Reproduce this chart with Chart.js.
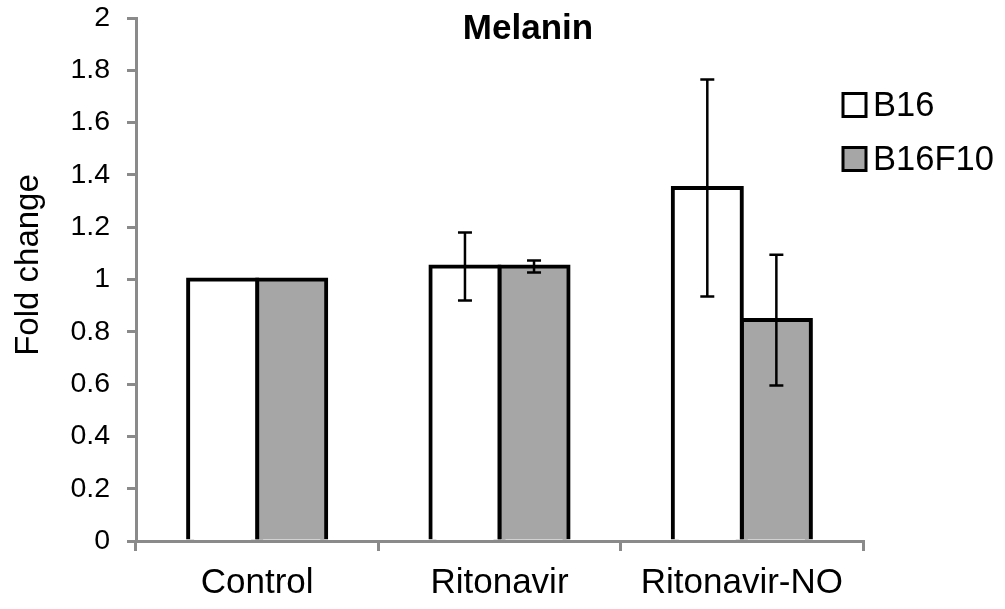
<!DOCTYPE html>
<html>
<head>
<meta charset="utf-8">
<title>Melanin</title>
<script src="https://cdn.jsdelivr.net/npm/chart.js@4/dist/chart.umd.min.js"></script>
<style>
  html, body { margin: 0; padding: 0; background: #ffffff; }
  #wrap { width: 1005px; height: 609px; position: relative; }
</style>
</head>
<body>
<div id="wrap"><canvas id="chart" width="1005" height="609"></canvas></div>
<script>
// Melanin content, fold change relative to control
const categories = ['Control', 'Ritonavir', 'Ritonavir-NO'];
const seriesNames = ['B16', 'B16F10'];
const b16Values = [1.0, 1.05, 1.35];
const b16Errors = [0, 0.13, 0.415];
const b16f10Values = [1.0, 1.05, 0.845];
const b16f10Errors = [0, 0.023, 0.25];
const yTickLabels = ['0', '0.2', '0.4', '0.6', '0.8', '1', '1.2', '1.4', '1.6', '1.8', '2'];
const chartTitle = 'Melanin';
const yAxisTitle = 'Fold change';

const FONT = '"Liberation Sans", Arial, Helvetica, sans-serif';
const AXIS_GREY = '#8a8a8a';
const errorsByDataset = [b16Errors, b16f10Errors];

// Vertical error bars with flat caps, centred on each bar
const errorBars = {
  id: 'errorBars',
  afterDatasetsDraw(chart) {
    const ctx = chart.ctx;
    const yScale = chart.scales.y;
    ctx.save();
    ctx.strokeStyle = '#000000';
    ctx.lineWidth = 2.5;
    chart.data.datasets.forEach((ds, i) => {
      const meta = chart.getDatasetMeta(i);
      const errs = errorsByDataset[i];
      meta.data.forEach((bar, j) => {
        const e = errs[j];
        if (!e) return;
        const v = ds.data[j];
        const yTop = yScale.getPixelForValue(v + e);
        const yBot = yScale.getPixelForValue(v - e);
        const x = bar.x;
        const cap = 7;
        ctx.beginPath();
        ctx.moveTo(x, yTop); ctx.lineTo(x, yBot);
        ctx.moveTo(x - cap, yTop); ctx.lineTo(x + cap, yTop);
        ctx.moveTo(x - cap, yBot); ctx.lineTo(x + cap, yBot);
        ctx.stroke();
      });
    });
    ctx.restore();
  }
};

// Title, y-axis caption and legend placed around the plot frame
const titleAndLegend = {
  id: 'titleAndLegend',
  afterDraw(chart) {
    const ctx = chart.ctx;
    ctx.save();
    ctx.fillStyle = '#000000';
    ctx.textAlign = 'center';
    ctx.textBaseline = 'middle';
    ctx.font = 'bold 35px ' + FONT;
    ctx.fillText(chartTitle, 528, 29);

    // rotated y-axis caption
    ctx.save();
    ctx.translate(38, 265);
    ctx.rotate(-Math.PI / 2);
    ctx.textBaseline = 'alphabetic';
    ctx.font = '33px ' + FONT;
    ctx.fillText(yAxisTitle, 0, 0);
    ctx.restore();

    const boxX = 843, boxSize = 23;
    const rowY = [105, 159];
    ctx.textAlign = 'left';
    ctx.font = '34.5px ' + FONT;
    chart.data.datasets.forEach((ds, i) => {
      const cy = rowY[i];
      ctx.fillStyle = ds.backgroundColor;
      ctx.fillRect(boxX, cy - boxSize / 2, boxSize, boxSize);
      ctx.strokeStyle = '#000000';
      ctx.lineWidth = 3;
      ctx.strokeRect(boxX, cy - boxSize / 2, boxSize, boxSize);
      ctx.fillStyle = '#000000';
      ctx.fillText(ds.label, 873, cy + 1);
    });
    ctx.restore();
  }
};

new Chart(document.getElementById('chart'), {
  type: 'bar',
  data: {
    labels: categories,
    datasets: [
      {
        label: seriesNames[0],
        data: b16Values,
        backgroundColor: '#ffffff',
        borderColor: '#000000',
        borderWidth: 4,
        inflateAmount: 2
      },
      {
        label: seriesNames[1],
        data: b16f10Values,
        backgroundColor: '#a6a6a6',
        borderColor: '#000000',
        borderWidth: 4,
        inflateAmount: 2
      }
    ]
  },
  options: {
    responsive: false,
    animation: false,
    layout: { padding: { top: 18, right: 142, left: 0, bottom: 0 } },
    datasets: {
      bar: { categoryPercentage: 0.57, barPercentage: 1.0 }
    },
    plugins: {
      legend: { display: false },
      title: { display: false },
      tooltip: { enabled: false }
    },
    scales: {
      x: {
        afterFit(scale) {
          scale.height = 68;
          scale.paddingLeft = 0;
          scale.paddingRight = 0;
        },
        grid: {
          display: true,
          offset: true,
          drawOnChartArea: false,
          drawTicks: true,
          tickLength: 10,
          color: AXIS_GREY,
          lineWidth: 3
        },
        border: { display: true, color: AXIS_GREY, width: 3 },
        ticks: {
          color: '#000000',
          font: { family: FONT, size: 35 },
          padding: 11,
          maxRotation: 0
        }
      },
      y: {
        min: 0,
        max: 2,
        afterFit(scale) {
          scale.width = 136;
          scale.paddingTop = 0;
          scale.paddingBottom = 0;
        },
        grid: {
          display: true,
          drawOnChartArea: false,
          drawTicks: true,
          tickLength: 9,
          color: AXIS_GREY,
          lineWidth: 3
        },
        border: { display: true, color: AXIS_GREY, width: 3 },
        ticks: {
          stepSize: 0.2,
          color: '#000000',
          font: { family: FONT, size: 28.5 },
          padding: 17,
          callback: (value, index) => yTickLabels[index]
        },
        title: { display: false }
      }
    }
  },
  plugins: [errorBars, titleAndLegend]
});
</script>
</body>
</html>
